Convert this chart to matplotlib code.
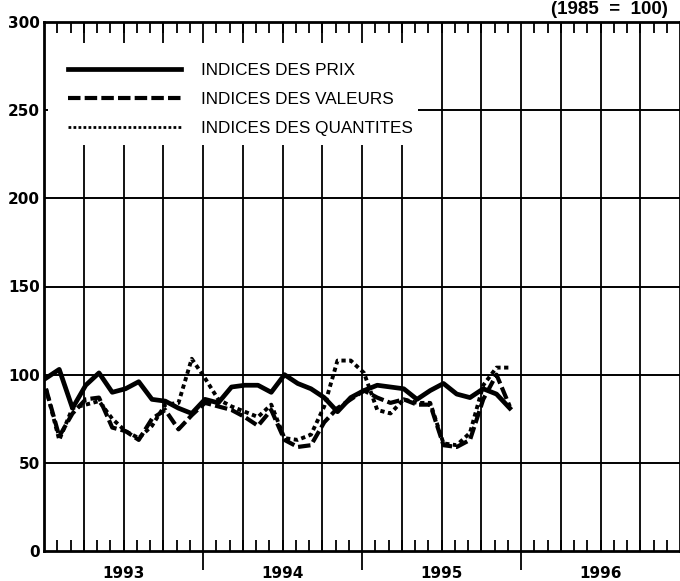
import numpy as np
import matplotlib.pyplot as plt
from matplotlib.patches import Rectangle
from matplotlib.lines import Line2D
import matplotlib.transforms as mtransforms

# monthly indices, Jan 1993 .. Dec 1995 (1985 = 100)
years = ['1993', '1994', '1995', '1996']
prix = [98, 103, 81, 94, 101, 90, 92, 96, 86, 85, 81, 78,
        86, 84, 93, 94, 94, 90, 100, 95, 92, 87, 79, 87,
        91, 94, 93, 92, 86, 91, 95, 89, 87, 92, 89, 81]
valeurs = [92, 65, 78, 86, 87, 70, 68, 63, 75, 80, 69, 77,
           84, 82, 80, 76, 71, 80, 63, 59, 60, 73, 81, 86,
           91, 87, 84, 86, 83, 83, 60, 59, 63, 86, 100, 82]
quantites = [92, 63, 81, 83, 85, 75, 68, 64, 71, 83, 84, 109,
             98, 86, 82, 79, 76, 83, 64, 63, 66, 82, 108, 108,
             101, 80, 78, 86, 84, 84, 61, 60, 67, 94, 104, 104]
labels = ['INDICES DES PRIX', 'INDICES DES VALEURS', 'INDICES DES QUANTITES']

plt.rcParams['font.family'] = ['Liberation Sans', 'DejaVu Sans']

fig = plt.figure(figsize=(6.8, 5.81), dpi=100)
ax = fig.add_axes([44 / 680, 1 - 551 / 581, 636 / 680, 529 / 581])
ax.set_xlim(0, 48)
ax.set_ylim(0, 300)

# grid
for v in range(50, 300, 50):
    ax.axhline(v, color='black', lw=1.4, zorder=1)
for m in range(3, 48, 3):
    ax.axvline(m, color='black', lw=1.3, zorder=1)

for s in ax.spines.values():
    s.set_linewidth(2)

# y axis
ax.set_yticks(range(0, 301, 50))
ax.set_yticklabels([str(v) for v in range(0, 301, 50)], fontweight='bold',
                   fontsize=11, family=['Liberation Sans Narrow', 'DejaVu Sans'])
ax.tick_params(axis='y', length=0, pad=3)

# x axis: year separators below, monthly ticks inside
ax.set_xticks([12, 24, 36])
ax.set_xticklabels([])
ax.set_xticks(range(1, 48), minor=True)
ax.tick_params(axis='x', which='major', direction='out', length=14, width=1.3,
               bottom=True, top=False)
ax.tick_params(axis='x', which='minor', direction='in', length=8, width=1.3,
               bottom=True, top=True)

trans = mtransforms.blended_transform_factory(ax.transData, ax.transAxes)
for i, y in enumerate(years):
    ax.text(12 * i + 6, -0.042, y, transform=trans, ha='center', va='center',
            fontsize=11, fontweight='bold',
            family=['Liberation Sans Narrow', 'DejaVu Sans'])

# data
x = np.arange(len(prix)) + 0.15
ax.plot(x, quantites, color='black', lw=2.8, dashes=(1.1, 0.9), zorder=4)
ax.plot(x, valeurs, color='black', lw=3, dashes=(3, 1), zorder=4)
ax.plot(x, prix, color='black', lw=3.4, zorder=5)

# legend on a white patch
ax.add_patch(Rectangle((0.006, 0.7675), 0.582, 0.193, transform=ax.transAxes,
                       facecolor='white', edgecolor='none', zorder=3))
handles = [Line2D([], [], color='black', lw=3.4),
           Line2D([], [], color='black', lw=3, dashes=(3, 1)),
           Line2D([], [], color='black', lw=2, dashes=(1, 0.8))]
leg = ax.legend(handles, labels, loc='upper left', bbox_to_anchor=(0.038, 0.922),
                frameon=False, handlelength=6.6, handletextpad=1.15,
                labelspacing=0.82, fontsize=12.3, borderaxespad=0, borderpad=0)
leg.set_zorder(6)

fig.text(668 / 680, 1 - 1 / 581, '(1985  =  100)', ha='right', va='top',
         fontsize=13.5, fontweight='bold')

fig.savefig('out.png', dpi=100)
